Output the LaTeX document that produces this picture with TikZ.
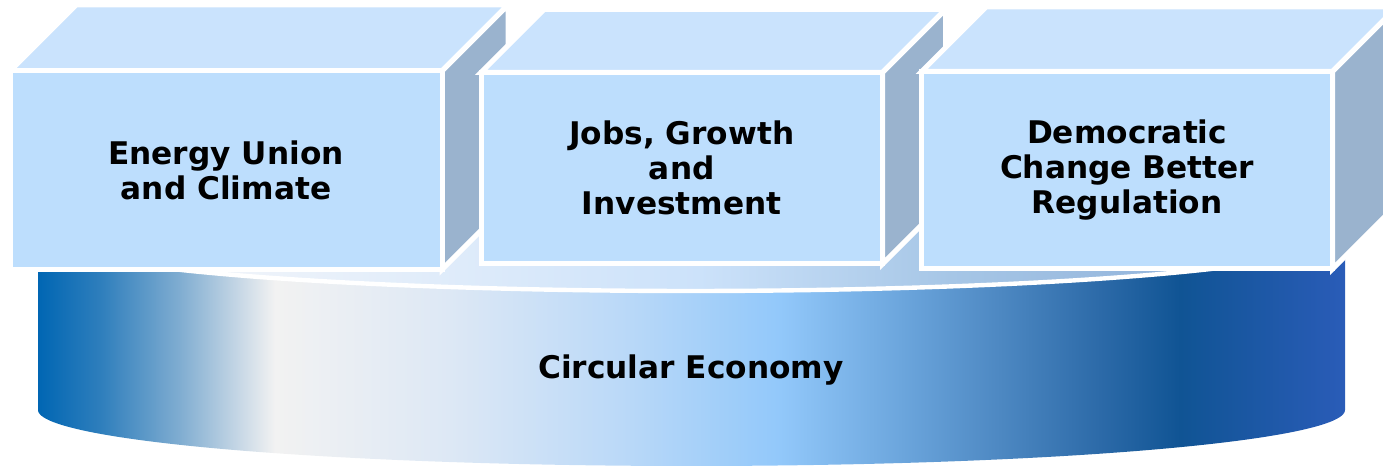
\documentclass[tikz,border=0pt]{standalone}
\usepackage{fontspec}
\setmainfont{DejaVu Sans}
\definecolor{frontc}{HTML}{BDDEFD}
\definecolor{topc}{HTML}{CAE3FD}
\definecolor{sidec}{HTML}{9AB3CE}
\definecolor{b0}{HTML}{0066B3}
\definecolor{b1}{HTML}{2E7EBC}
\definecolor{b2}{HTML}{80ADD1}
\definecolor{b3}{HTML}{C8D8E6}
\definecolor{b4}{HTML}{F2F2F2}
\definecolor{b5}{HTML}{DDE8F5}
\definecolor{b6}{HTML}{BBD9F8}
\definecolor{b7}{HTML}{92C8FA}
\definecolor{b8}{HTML}{6CA6DD}
\definecolor{b9}{HTML}{4D88C2}
\definecolor{b10}{HTML}{2C6AA8}
\definecolor{b11}{HTML}{105494}
\definecolor{b12}{HTML}{2A5CB8}
\definecolor{t0}{HTML}{FFFFFF}
\definecolor{t1}{HTML}{EEF3FA}
\definecolor{t2}{HTML}{CCE2FA}
\definecolor{t3}{HTML}{A6C6E6}
\definecolor{t4}{HTML}{86A8D4}
\pgfdeclarehorizontalshading{bodyshade}{100bp}{color(0bp)=(b0); color(25bp)=(b0); color(27.37bp)=(b1); color(30.43bp)=(b2); color(32.73bp)=(b3); color(34.07bp)=(b4); color(40.76bp)=(b5); color(47.27bp)=(b6); color(53.39bp)=(b7); color(57.97bp)=(b8); color(61.8bp)=(b9); color(65.63bp)=(b10); color(68.69bp)=(b11); color(75bp)=(b12); color(100bp)=(b12)}
\pgfdeclarehorizontalshading{topshade}{100bp}{color(0bp)=(t0); color(25bp)=(t0); color(33.1bp)=(t1); color(50.3bp)=(t2); color(59.9bp)=(t3); color(75bp)=(t4); color(100bp)=(t4)}
\newcommand{\drawcuboid}[7]{%
  \path[boxface, fill=topc] (#1,#2) -- ({#1+#5},{#2-#5}) -- ({#3+#5},{#2-#5}) -- (#3,#2) -- cycle;
  \path[boxface, fill=sidec] (#3,#2) -- ({#3+#5},{#2-#5}) -- ({#3+#5},{#4-#5}) -- (#3,#4) -- cycle;
  \path[boxface, fill=frontc] (#1,#2) rectangle (#3,#4);
  \node[boxlabel] (#6) at ({(#1+#3)/2},{(#2+#4)/2}) {#7};
}
\tikzset{
  boxface/.style={draw=white, line width=2.5pt, line join=miter},
  boxlabel/.style={font=\fontsize{15.6}{17.5}\selectfont\bfseries, align=center, text=black, inner sep=0pt},
  rimline/.style={draw=white, line width=2.2pt}
}
\begin{document}
\begin{tikzpicture}[x=0.5pt,y=-0.5pt]
\useasboundingbox (0,0) rectangle (1383,469);
\clip (0,0) rectangle (1383,469);
% cylinder body
\path[shading=bodyshade] (38,235) -- plot[domain=180:360,samples=120] ({691.5+653.5*cos(\x)},{410-56*sin(\x)}) -- (1345,235) -- plot[domain=0:-180,samples=120] ({691.5+653.5*cos(\x)},{235-56*sin(\x)}) -- cycle;
% top face
\path[shading=topshade] plot[domain=0:360,samples=200] ({691.5+653.5*cos(\x)},{235-56*sin(\x)}) -- cycle;
\path[rimline] plot[domain=0:360,samples=200] ({691.5+653.5*cos(\x)},{235-56*sin(\x)}) -- cycle;
% boxes
\drawcuboid{10}{71}{442}{269.5}{66}{energy}{Energy Union\\and Climate}
\drawcuboid{481}{72.5}{882.5}{264}{63}{jobs}{Jobs, Growth\\and\\Investment}
\drawcuboid{921.7}{71.5}{1332.5}{269}{64.5}{democ}{Democratic\\Change Better\\Regulation}
\node[boxlabel, anchor=base] (ce) at (691,379) {Circular Economy};
\end{tikzpicture}
\end{document}
